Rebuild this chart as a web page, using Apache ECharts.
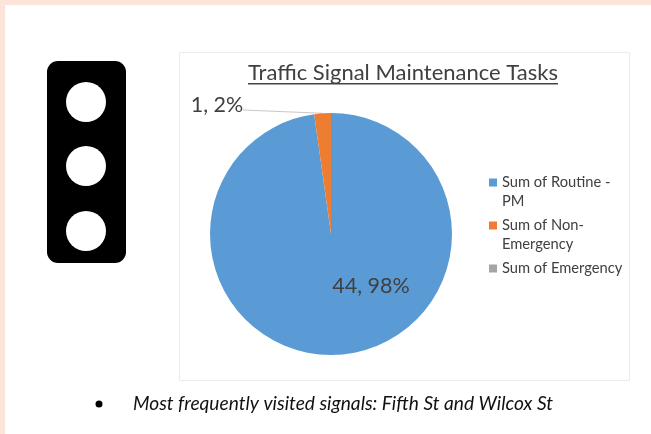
<!DOCTYPE html>
<html>
<head>
<meta charset="utf-8">
<style>
  html, body { margin: 0; padding: 0; background: #fff; }
  #main { width: 651px; height: 434px; filter: blur(0.4px); }
</style>
<script src="https://cdn.jsdelivr.net/npm/echarts@6/dist/echarts.min.js"></script>
</head>
<body>
<div id="main"></div>
<script>
const categories = ['Sum of Routine - PM', 'Sum of Non-Emergency', 'Sum of Emergency'];
const legendLabels = ['Sum of Routine -\nPM', 'Sum of Non-\nEmergency', 'Sum of Emergency\n '];
const taskValues = [44, 1, 0];
const sliceColors = ['#5b9bd5', '#ed7d31', '#a5a5a5'];
const chartTitle = 'Traffic Signal Maintenance Tasks';
const noteText = 'Most frequently visited signals: Fifth St and Wilcox St';
const fontName = 'Lato, "Open Sans", sans-serif';

let myChart = echarts.init(document.getElementById('main'), null, {renderer: 'canvas'});

let decorations = [
  // peach page edge
  {type: 'rect', shape: {x: 0, y: 0, width: 651, height: 5}, style: {fill: '#fde4d9'}},
  {type: 'rect', shape: {x: 0, y: 0, width: 5, height: 434}, style: {fill: '#fde4d9'}},
  // chart frame
  {type: 'rect', shape: {x: 179.5, y: 52.5, width: 450, height: 328}, style: {fill: '#fff', stroke: '#ececec', lineWidth: 1}},
  // title underline
  {type: 'rect', shape: {x: 248, y: 83, width: 310, height: 1.4}, style: {fill: '#444'}},
  // traffic signal
  {type: 'rect', shape: {x: 47, y: 61, width: 79, height: 202, r: 11}, style: {fill: '#000'}},
  {type: 'circle', shape: {cx: 86, cy: 102, r: 20}, style: {fill: '#fff'}},
  {type: 'circle', shape: {cx: 86, cy: 166, r: 20}, style: {fill: '#fff'}},
  {type: 'circle', shape: {cx: 86, cy: 231, r: 20}, style: {fill: '#fff'}},
  // note under the chart
  {type: 'circle', shape: {cx: 99, cy: 404, r: 3.5}, style: {fill: '#000'}},
  {type: 'text', x: 133, y: 404, style: {
    text: noteText, fill: '#111', font: 'italic 19.15px ' + fontName, verticalAlign: 'middle'
  }}
];

let options = {
  animation: false,
  title: {
    text: chartTitle,
    left: 398,
    top: 57,
    textAlign: 'center',
    textStyle: {fontFamily: fontName, fontSize: 22, fontWeight: 'normal', color: '#404040'}
  },
  legend: {
    orient: 'vertical',
    left: 484,
    top: 168,
    itemWidth: 8,
    itemHeight: 38,
    itemGap: 5,
    // square sits level with the first text line, slivers keep the full box height
    icon: 'path://M0 0H0.01V0.01H0Z M0 5.5H8V13.5H0Z M0 37.99H0.01V38H0Z',
    data: categories,
    formatter: function(name){
      return legendLabels[categories.indexOf(name)];
    },
    textStyle: {fontFamily: fontName, fontSize: 14.7, color: '#404040', lineHeight: 19},
    itemStyle: {borderWidth: 0}
  },
  graphic: {elements: decorations},
  series: [{
    type: 'pie',
    center: [331, 234],
    radius: [0, 121],
    startAngle: 90,
    percentPrecision: 0,
    stillShowZeroSum: false,
    data: categories.map(function(name, i){
      let item = {name: name, value: taskValues[i], itemStyle: {color: sliceColors[i]}};
      if(taskValues[i] == 0){
        item.label = {show: false};
        item.labelLine = {show: false};
      }
      return item;
    }),
    label: {
      formatter: '{c}, {d}%',
      fontFamily: fontName,
      fontSize: 21.5,
      color: '#404040'
    },
    labelLine: {show: true, lineStyle: {color: '#c8c8c8', width: 1}},
    labelLayout: function(params){
      if(params.dataIndex == 0){
        return {x: 371, y: 286, align: 'center', verticalAlign: 'middle'};
      }
      let layout = {x: 217, y: 105, align: 'center', verticalAlign: 'middle'};
      let pts = params.labelLinePoints;
      if(pts){
        // straight leader instead of the default elbow
        layout.labelLinePoints = [pts[0], [(pts[0][0] + 243) / 2, (pts[0][1] + 110) / 2], [243, 110]];
      }
      return layout;
    }
  }]
};

myChart.setOption(options);
</script>
</body>
</html>
